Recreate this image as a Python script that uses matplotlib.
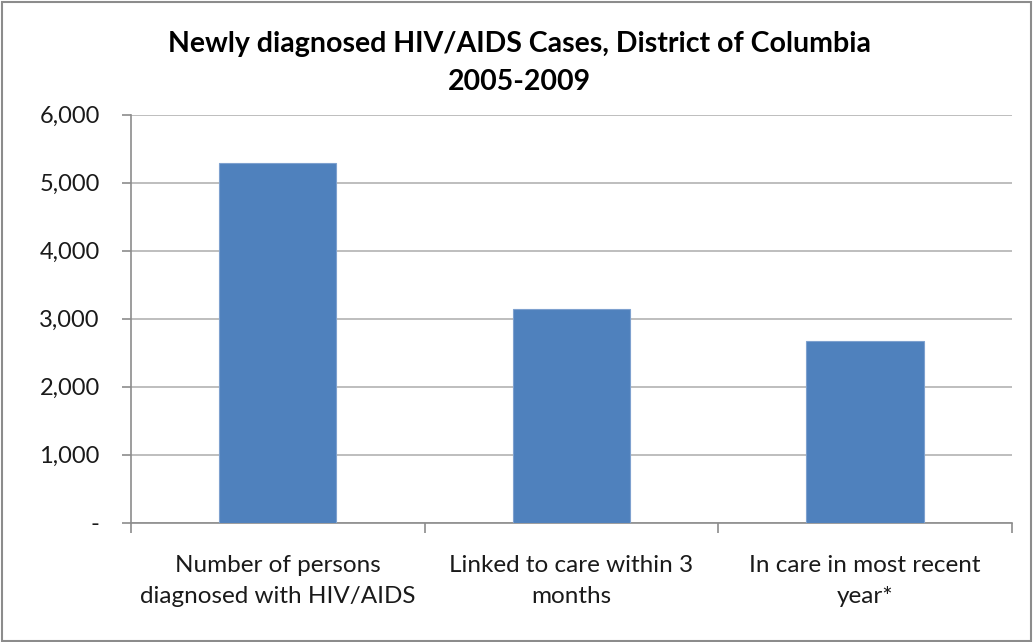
import matplotlib
matplotlib.use("Agg")
import matplotlib.pyplot as plt
from matplotlib.patches import Rectangle
from matplotlib.ticker import FuncFormatter

categories = ["Number of persons\ndiagnosed with HIV/AIDS",
              "Linked to care within 3\nmonths",
              "In care in most recent\nyear*"]
values = [5294, 3138, 2668]
title = "Newly diagnosed HIV/AIDS Cases, District of Columbia\n2005-2009"
y_ticks = [0, 1000, 2000, 3000, 4000, 5000, 6000]

plt.rcParams["font.family"] = ["Lato", "DejaVu Sans"]

fig = plt.figure(figsize=(10.33, 6.42), dpi=100)
ax = fig.add_axes([131 / 1033, 119.3 / 642, 880.7 / 1033, 408 / 642])

x = range(len(categories))
ax.bar(x, values, width=0.4, color="#4F81BD", edgecolor="#7EA1CF",
       linewidth=0.8, zorder=3)

ax.set_xlim(-0.5, len(categories) - 0.5)
ax.set_ylim(0, 6000)
ax.set_yticks(y_ticks)
ax.yaxis.set_major_formatter(
    FuncFormatter(lambda v, p: "-" if v == 0 else f"{int(v):,}"))
ax.yaxis.grid(True, color="#B3B3B3", linewidth=1.2, zorder=0)
ax.set_axisbelow(True)

# category labels between boundary ticks
ax.set_xticks([-0.5, 0.5, 1.5, 2.5])
ax.set_xticklabels([])
ax.tick_params(axis="x", length=7, width=1.2, color="#8C8C8C", direction="out")
ax.tick_params(axis="y", length=6.5, width=1.2, color="#8C8C8C", direction="out",
               labelsize=17, labelcolor="#1A1A1A", pad=16)
for i, lab in enumerate(categories):
    ax.text(i, -0.078, lab, transform=ax.get_xaxis_transform(),
            ha="center", va="top", fontsize=17.5, color="#1A1A1A",
            linespacing=1.6)

for side in ["top", "right"]:
    ax.spines[side].set_visible(False)
for side in ["left", "bottom"]:
    ax.spines[side].set_color("#8C8C8C")
    ax.spines[side].set_linewidth(1.2)

fig.text(0.503, 1 - 63 / 642, title, ha="center", va="center",
         fontsize=20.5, fontweight="bold", color="#000000", linespacing=1.58)

# outer chart frame
fig.patches.append(Rectangle((1.5 / 1033, 1.5 / 642), 1029 / 1033, 638.5 / 642,
                             transform=fig.transFigure, fill=False,
                             edgecolor="#8C8C8C", linewidth=1.5))

fig.savefig("out.png", dpi=100, facecolor="white")
